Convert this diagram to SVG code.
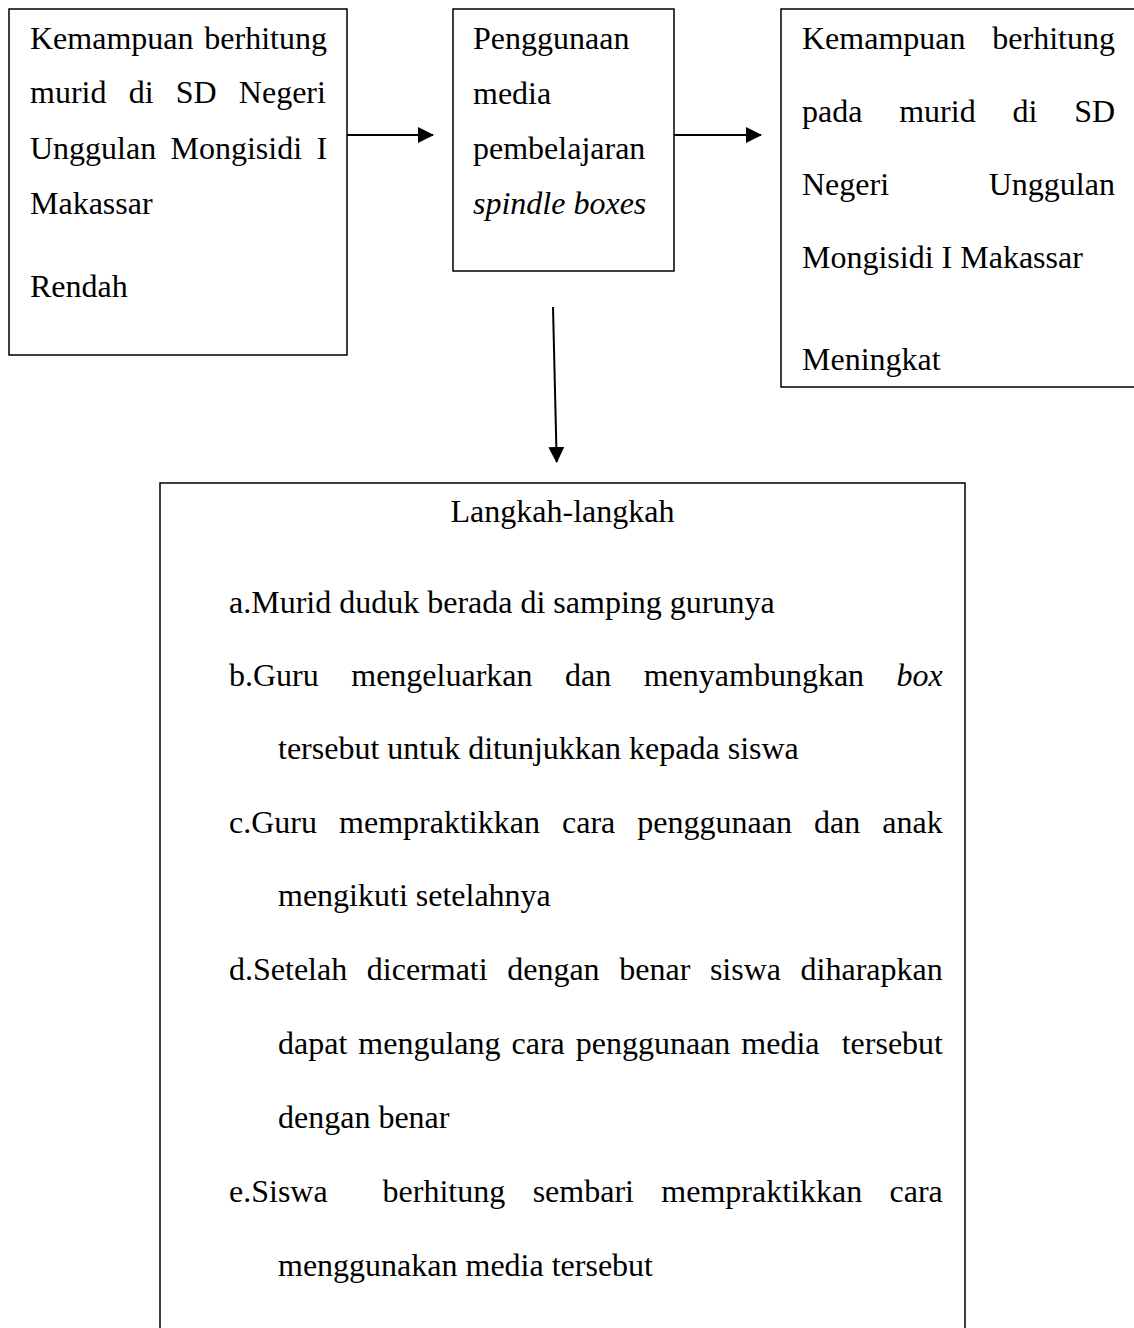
<svg xmlns="http://www.w3.org/2000/svg" width="1134" height="1328" viewBox="0 0 1134 1328">
<defs>
<style>
.box{fill:#fff;stroke:#000;stroke-width:1.5}
.t{font-family:"Liberation Serif","Times New Roman",serif;font-size:32px;fill:#000}
.i{font-style:italic}
.c{stroke:#000;stroke-width:2;fill:none}
</style>
<marker id="ah" viewBox="0 0 16 16" refX="15" refY="8" markerWidth="16" markerHeight="16" markerUnits="userSpaceOnUse" orient="auto">
<path d="M0,0 L16,8 L0,16 Z" fill="#000"/>
</marker>
</defs>
<rect width="1134" height="1328" fill="#fff"/>

<g id="node-awal">
<rect class="box" x="9" y="9" width="338" height="346"/>
<text class="t" x="30" y="49" style="word-spacing:2.8px">Kemampuan berhitung</text>
<text class="t" x="30" y="103" style="word-spacing:14.2px">murid di SD Negeri</text>
<text class="t" x="30" y="159" style="word-spacing:6.3px">Unggulan Mongisidi I</text>
<text class="t" x="30" y="214">Makassar</text>
<text class="t" x="30" y="297">Rendah</text>
</g>

<g id="node-media">
<rect class="box" x="453" y="9" width="221" height="262"/>
<text class="t" x="473" y="49">Penggunaan</text>
<text class="t" x="473" y="104">media</text>
<text class="t" x="473" y="159">pembelajaran</text>
<text class="t i" x="473" y="214">spindle boxes</text>
</g>

<g id="node-hasil">
<rect class="box" x="781" y="9" width="360" height="378"/>
<text class="t" x="802" y="49" style="word-spacing:18.8px">Kemampuan berhitung</text>
<text class="t" x="802" y="122" style="word-spacing:28.8px">pada murid di SD</text>
<text class="t" x="802" y="195" style="word-spacing:91.7px">Negeri Unggulan</text>
<text class="t" x="802" y="268">Mongisidi I Makassar</text>
<text class="t" x="802" y="370">Meningkat</text>
</g>

<g id="node-langkah">
<rect class="box" x="160" y="483" width="805" height="900"/>
<text class="t" x="562.5" y="522" text-anchor="middle">Langkah-langkah</text>
<text class="t" x="229" y="613">a.Murid duduk berada di samping gurunya</text>
<text class="t" x="229" y="686" style="word-spacing:24.5px">b.Guru mengeluarkan dan menyambungkan <tspan class="i">box</tspan></text>
<text class="t" x="278" y="759">tersebut untuk ditunjukkan kepada siswa</text>
<text class="t" x="229" y="833" style="word-spacing:14.1px">c.Guru mempraktikkan cara penggunaan dan anak</text>
<text class="t" x="278" y="906">mengikuti setelahnya</text>
<text class="t" x="229" y="980" style="word-spacing:11.6px">d.Setelah dicermati dengan benar siswa diharapkan</text>
<text class="t" x="278" y="1054" style="word-spacing:3px">dapat mengulang cara penggunaan media</text>
<text class="t" x="943" y="1054" text-anchor="end">tersebut</text>
<text class="t" x="278" y="1128">dengan benar</text>
<text class="t" x="229" y="1202">e.Siswa</text>
<text class="t" x="382.6" y="1202" style="word-spacing:19.4px">berhitung sembari mempraktikkan cara</text>
<text class="t" x="278" y="1276">menggunakan media tersebut</text>
</g>

<g id="connectors">
<line class="c" x1="347" y1="135" x2="433" y2="135" marker-end="url(#ah)"/>
<line class="c" x1="674" y1="135" x2="761" y2="135" marker-end="url(#ah)"/>
<line class="c" x1="553" y1="307" x2="556.7" y2="462" marker-end="url(#ah)"/>
</g>
</svg>
